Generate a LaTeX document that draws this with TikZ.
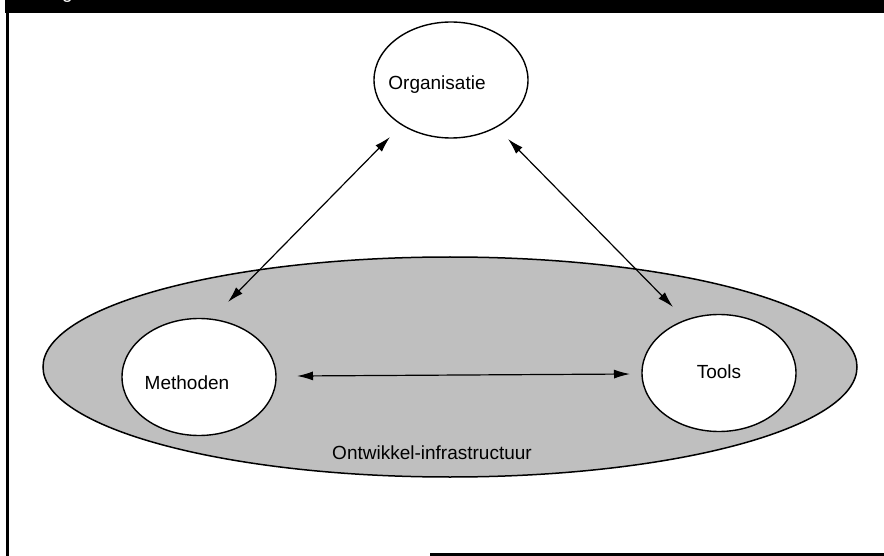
\documentclass[tikz,border=0pt]{standalone}
\usepackage{fontspec}
\setmainfont{Liberation Sans}
\usetikzlibrary{arrows.meta,shapes.geometric}
\begin{document}
\begin{tikzpicture}[x=1pt,y=-1pt,
  lbl/.style={font=\fontsize{19}{22}\selectfont,inner sep=0pt},
  bubble/.style={ellipse,draw=black,line width=1.4pt,fill=white,inner sep=0pt,
    minimum width=154pt},
  link/.style={line width=1.2pt,{Latex[length=16pt,width=9pt]}-{Latex[length=16pt,width=9pt]}}]
\useasboundingbox (0,0) rectangle (884,556);
% frame: header bar, left rule, bottom rule
\fill[black] (5,0) rectangle (884,13);
\begin{scope}
  \clip (5,0) rectangle (884,13);
  \node[lbl,text=white,anchor=base west] (hdr) at (62,-1) {g};
\end{scope}
\fill[black] (6,13) rectangle (9,556);
\fill[black] (430,553) rectangle (884,556);
% infrastructure layer
\node[ellipse,draw=black,line width=1.5pt,fill=black!25,inner sep=0pt,
  minimum width=814pt,minimum height=220pt] (infra) at (450,367) {};
\node[lbl] (infralbl) at (432,453) {Ontwikkel-infrastructuur};
% the three bubbles
\node[bubble,minimum height=116pt] (org) at (451,80) {};
\node[lbl] (orglbl) at (437,85) {Organisatie};
\node[bubble,minimum height=117pt] (meth) at (199,377) {};
\node[lbl] (methlbl) at (187,383) {Methoden};
\node[bubble,minimum height=117pt] (tools) at (719,373) {};
\node[lbl] (toolslbl) at (719,372) {Tools};
% connector ends
\coordinate (orgL) at (390,137);
\coordinate (methT) at (228,302);
\coordinate (orgR) at (508,139);
\coordinate (toolsT) at (673,307);
\coordinate (methR) at (297,376);
\coordinate (toolsL) at (630,374);
\draw[link] (methT) -- (orgL);
\draw[link] (orgR) -- (toolsT);
\draw[link] (methR) -- (toolsL);
\end{tikzpicture}
\end{document}
